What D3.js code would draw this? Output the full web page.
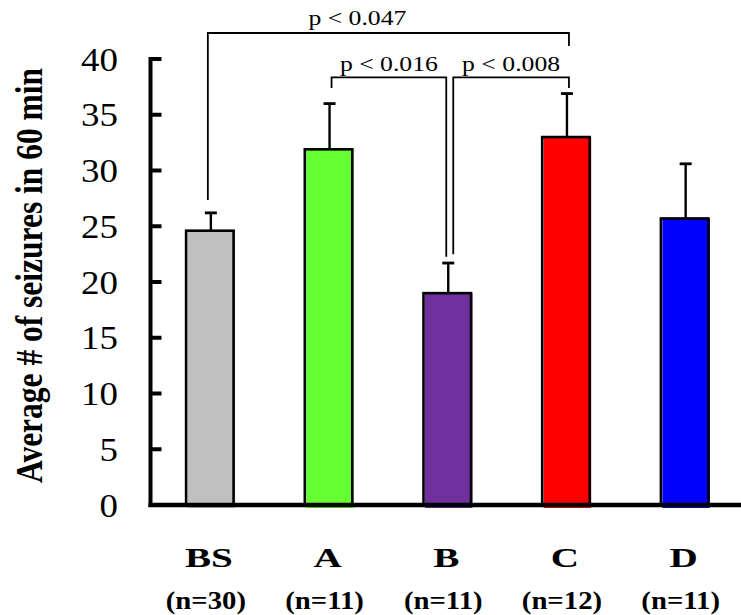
<!DOCTYPE html>
<html>
<head>
<meta charset="utf-8">
<script src="https://cdn.jsdelivr.net/npm/d3@7"></script>
<style>
  html, body { margin: 0; padding: 0; background: #fff; }
  svg { display: block; }
  text { font-family: "Liberation Serif", "Times New Roman", serif; fill: #000; }
</style>
</head>
<body>
<svg id="chart" width="741" height="615"></svg>
<script>
// Seizure counts per group (mean with upper error bar)
const categories = ["BS", "A", "B", "C", "D"];
const sampleSizes = ["(n=30)", "(n=11)", "(n=11)", "(n=12)", "(n=11)"];
const means = [24.6, 31.9, 19.0, 33.0, 25.7];
const errors = [1.6, 4.1, 2.7, 3.9, 4.9];
const barColors = ["#c0c0c0", "#66ff33", "#7030a0", "#ff0000", "#0000ff"];
const yTicks = [0, 5, 10, 15, 20, 25, 30, 35, 40];

// Pairwise comparisons: bracket height and leg ends in data units
const comparisonLabels = ["p < 0.047", "p < 0.016", "p < 0.008"];
const comparisonFrom = ["BS", "A", "B"];
const comparisonTo = ["C", "B", "C"];
const comparisonLevel = [42.33, 38.36, 38.36];
const comparisonLeftEnd = [27.35, 37.4, 22.48];
const comparisonRightEnd = [41.17, 22.27, 37.4];

const svg = d3.select("#chart");

const x = d3.scaleBand()
  .domain(categories)
  .range([150.5, 744])
  .paddingInner(0.6)
  .paddingOuter(0.3);

const y = d3.scaleLinear().domain([0, 40]).range([505, 59]);

const cx = c => x(c) + x.bandwidth() / 2;
const axisX = 150.5;

// Bars: colored fill sits slightly right/below its black outline
const bars = svg.append("g");
categories.forEach((c, i) => {
  bars.append("rect")
    .attr("x", x(c) + 1.5)
    .attr("y", y(means[i]))
    .attr("width", x.bandwidth())
    .attr("height", y(0) - y(means[i]) + 3)
    .attr("fill", barColors[i]);
  bars.append("rect")
    .attr("x", x(c))
    .attr("y", y(means[i]))
    .attr("width", x.bandwidth())
    .attr("height", y(0) - y(means[i]))
    .attr("fill", "none")
    .attr("stroke", "#000")
    .attr("stroke-width", 2.6);
});

// Error bars
const err = svg.append("g");
categories.forEach((c, i) => {
  const xc = cx(c) + 1;
  const top = y(means[i] + errors[i]);
  err.append("rect")
    .attr("x", xc - 1.2).attr("width", 2.4)
    .attr("y", top).attr("height", y(means[i]) - top)
    .attr("fill", "#000");
  err.append("rect")
    .attr("x", xc - 6).attr("width", 12)
    .attr("y", top - 1.4).attr("height", 2.8)
    .attr("fill", "#000");
});

// Y axis: spine plus inward ticks in one path, tick positions from the scale
const tickPath = yTicks.map(d => `M${axisX},${y(d)}h11`).join("");
svg.append("path")
  .attr("d", `M${axisX},${y(40) - 2}V${y(0) + 2}` + tickPath)
  .attr("fill", "none")
  .attr("stroke", "#000")
  .attr("stroke-width", 4);

// X axis baseline
svg.append("path")
  .attr("d", `M${axisX - 2},${y(0)}H741`)
  .attr("fill", "none")
  .attr("stroke", "#000")
  .attr("stroke-width", 4.5);

// Y tick labels
svg.append("g").selectAll("text")
  .data(yTicks)
  .join("text")
  .attr("transform", d => `translate(118,${y(d) + 11.5}) scale(1.12,1)`)
  .attr("text-anchor", "end")
  .attr("font-size", 33)
  .text(d => d);

// Y axis title
svg.append("text")
  .attr("transform", "translate(41.5,275.5) scale(1.25,1) rotate(-90)")
  .attr("text-anchor", "middle")
  .attr("font-size", 30)
  .attr("font-weight", "bold")
  .attr("textLength", 415)
  .attr("lengthAdjust", "spacingAndGlyphs")
  .text("Average # of seizures in 60 min");

// Category labels and sample sizes
categories.forEach((c, i) => {
  svg.append("text")
    .attr("transform", `translate(${cx(c) - 1},567) scale(1.45,1)`)
    .attr("text-anchor", "middle")
    .attr("font-size", 27)
    .attr("font-weight", "bold")
    .text(c);
  svg.append("text")
    .attr("transform", `translate(${cx(c) - 4},609) scale(1.15,1)`)
    .attr("text-anchor", "middle")
    .attr("font-size", 25)
    .attr("font-weight", "bold")
    .text(sampleSizes[i]);
});

// Significance brackets
const legDx = [[-2, 3], [3, -1], [6, 3]];
const labelDx = [-31, 0, 0];
const labelGap = [8, 6.6, 6.6];
const brackets = svg.append("g");
comparisonLabels.forEach((lab, i) => {
  const x1 = cx(comparisonFrom[i]) + legDx[i][0];
  const x2 = cx(comparisonTo[i]) + legDx[i][1];
  const yl = y(comparisonLevel[i]);
  brackets.append("path")
    .attr("d", `M${x1},${y(comparisonLeftEnd[i])}V${yl}H${x2}V${y(comparisonRightEnd[i])}`)
    .attr("fill", "none")
    .attr("stroke", "#000")
    .attr("stroke-width", 1.8);
  brackets.append("text")
    .attr("transform", `translate(${(x1 + x2) / 2 + labelDx[i]},${yl - labelGap[i]})`)
    .attr("text-anchor", "middle")
    .attr("font-size", 20)
    .attr("textLength", 98)
    .attr("lengthAdjust", "spacingAndGlyphs")
    .text(lab);
});
</script>
</body>
</html>
